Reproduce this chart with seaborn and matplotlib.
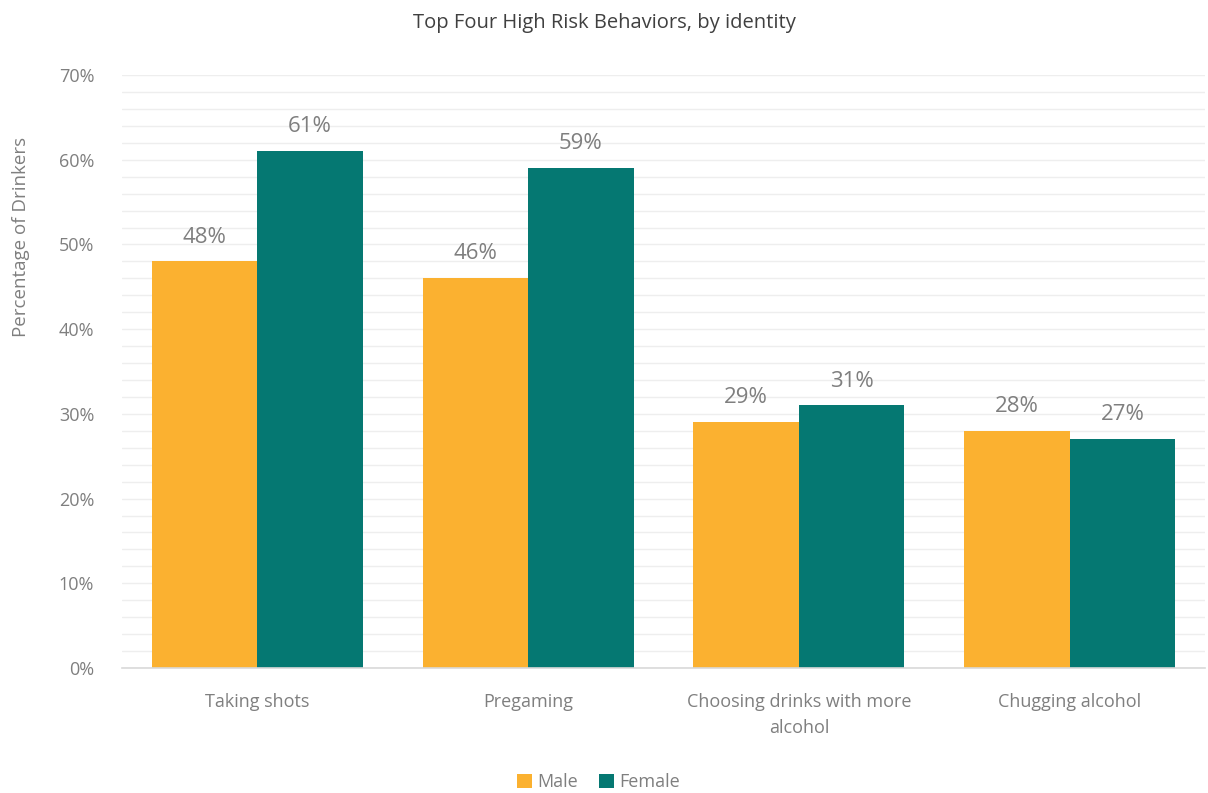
import matplotlib
matplotlib.use("Agg")
import matplotlib.pyplot as plt
from matplotlib.ticker import MultipleLocator, FuncFormatter
import seaborn as sns
import pandas as pd

behaviors = ["Taking shots", "Pregaming", "Choosing drinks with more\nalcohol", "Chugging alcohol"]
male = [48, 46, 29, 28]
female = [61, 59, 31, 27]
groups = ["Male", "Female"]
colors = {"Male": "#FBB130", "Female": "#057872"}

df = pd.DataFrame({
    "behavior": behaviors * 2,
    "pct": male + female,
    "identity": ["Male"] * 4 + ["Female"] * 4,
})

sns.set_theme(style="white")
plt.rcParams["font.family"] = ["Open Sans", "DejaVu Sans"]
txt = "#7f7f7f"

fig = plt.figure(figsize=(12.08, 7.93), dpi=100)
ax = fig.add_axes([0.101, 0.1576, 0.8965, 0.7478])

sns.barplot(data=df, x="behavior", y="pct", hue="identity", palette=colors,
            hue_order=groups, width=0.78, saturation=1, linewidth=0, ax=ax, legend=True)

ax.set_ylim(0, 70)
ax.set_xlim(-0.5, 3.5)
ax.yaxis.set_major_locator(MultipleLocator(10))
ax.yaxis.set_minor_locator(MultipleLocator(2))
ax.yaxis.set_major_formatter(FuncFormatter(lambda v, p: f"{int(v)}%"))
ax.grid(axis="y", which="both", color="#eeeeee", linewidth=1)
ax.set_axisbelow(True)

for s in ["top", "right", "left"]:
    ax.spines[s].set_visible(False)
ax.spines["bottom"].set_color("#d9d9d9")
ax.spines["bottom"].set_linewidth(1.2)

ax.tick_params(axis="y", which="both", length=0, labelsize=13, labelcolor=txt, pad=20)
ax.tick_params(axis="x", length=0, labelsize=13, labelcolor=txt, pad=18)
for lbl in ax.get_xticklabels():
    lbl.set_linespacing(1.6)
    lbl.set_verticalalignment("top")
# category boundary ticks like the original
ax.set_xticks([-0.5, 0.5, 1.5, 2.5, 3.5], minor=True)
ax.tick_params(axis="x", which="minor", length=8, color="#d9d9d9", width=1.2)

for c in ax.containers:
    ax.bar_label(c, fmt="%d%%", padding=10, fontsize=16, color=txt)

ax.set_xlabel("")
ax.set_ylabel("Percentage of Drinkers", fontsize=13.5, color=txt)
ax.yaxis.set_label_coords(-0.085, 0.727)

fig.suptitle("Top Four High Risk Behaviors, by identity", fontsize=14.5,
             color="#404040", y=0.983)

leg = ax.legend(loc="lower center", bbox_to_anchor=(0.44, -0.235), ncol=2,
                frameon=False, fontsize=13, handlelength=0.8, handleheight=0.8,
                columnspacing=1.2, handletextpad=0.3)
for t in leg.get_texts():
    t.set_color(txt)

fig.savefig("out.png", dpi=100)
